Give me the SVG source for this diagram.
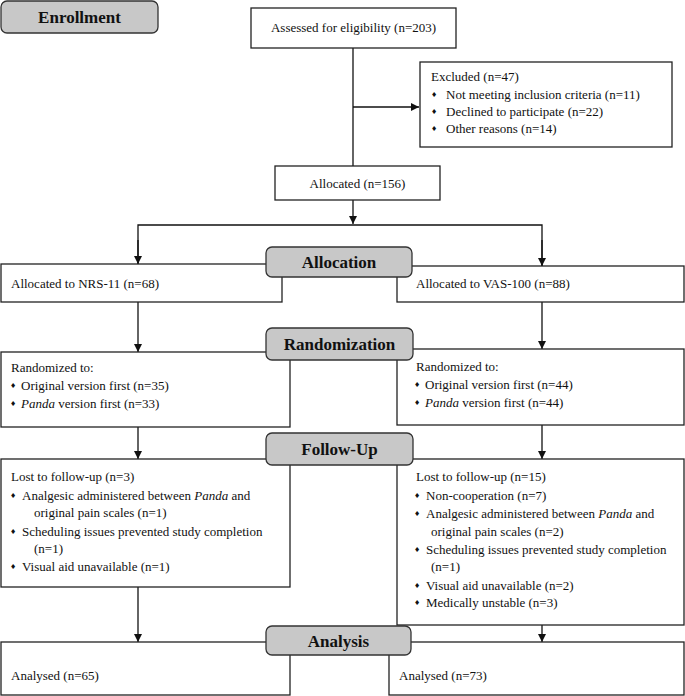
<svg xmlns="http://www.w3.org/2000/svg" width="685" height="696" viewBox="0 0 685 696">
<defs>
<style>
.box{fill:#fff;stroke:#222;stroke-width:1.3}
.lbl{fill:#c8c8c8;stroke:#333;stroke-width:1.3}
.t{font-family:"Liberation Serif","Times New Roman",serif;font-size:13px;fill:#111}
.b{font-family:"Liberation Serif","Times New Roman",serif;font-size:17px;font-weight:bold;fill:#111;text-anchor:middle}
.c{text-anchor:middle}
.bu{font-family:"DejaVu Sans",sans-serif;font-size:7px;fill:#111}
.i{font-style:italic}
.ln{fill:none;stroke:#111;stroke-width:1.3}
</style>
<marker id="ah" viewBox="0 0 10 10" refX="10" refY="5" markerWidth="8" markerHeight="8" markerUnits="userSpaceOnUse" orient="auto">
<path d="M0,0 L10,5 L0,10 z" fill="#111"/>
</marker>
</defs>
<rect width="685" height="696" fill="#fff"/>

<g id="connectors">
<line class="ln" x1="353" y1="48" x2="353" y2="166"/>
<line class="ln" x1="353" y1="107" x2="419" y2="107" marker-end="url(#ah)"/>
<line class="ln" x1="353" y1="200" x2="353" y2="224" marker-end="url(#ah)"/>
<polyline class="ln" points="138,264 138,225 542,225 542,266"/>
<line class="ln" x1="138" y1="240" x2="138" y2="264" marker-end="url(#ah)"/>
<line class="ln" x1="542" y1="240" x2="542" y2="266" marker-end="url(#ah)"/>
<line class="ln" x1="138" y1="302" x2="138" y2="352" marker-end="url(#ah)"/>
<line class="ln" x1="542" y1="302" x2="542" y2="349" marker-end="url(#ah)"/>
<line class="ln" x1="138" y1="427" x2="138" y2="459" marker-end="url(#ah)"/>
<line class="ln" x1="542" y1="425" x2="542" y2="459" marker-end="url(#ah)"/>
<line class="ln" x1="138" y1="587" x2="138" y2="642" marker-end="url(#ah)"/>
<line class="ln" x1="542" y1="625" x2="542" y2="642" marker-end="url(#ah)"/>
</g>

<g id="assessed">
<rect class="box" x="251" y="8" width="205" height="40"/>
<text class="t c" x="353.5" y="32">Assessed for eligibility (n=203)</text>
</g>

<g id="excluded">
<rect class="box" x="420" y="62" width="252" height="85"/>
<text class="t" x="431" y="81">Excluded (n=47)</text>
<text class="bu" x="431" y="97">♦</text><text class="t" x="446" y="99">Not meeting inclusion criteria (n=11)</text>
<text class="bu" x="431" y="114">♦</text><text class="t" x="446" y="116">Declined to participate (n=22)</text>
<text class="bu" x="431" y="131">♦</text><text class="t" x="446" y="133">Other reasons (n=14)</text>
</g>

<g id="allocated">
<rect class="box" x="275" y="166" width="165" height="34"/>
<text class="t c" x="357.5" y="187.5">Allocated (n=156)</text>
</g>

<g id="nrs">
<rect class="box" x="1" y="264" width="281" height="38"/>
<text class="t" x="11" y="287.5">Allocated to NRS-11 (n=68)</text>
</g>

<g id="vas">
<rect class="box" x="397" y="266" width="287" height="36"/>
<text class="t" x="416" y="287.5">Allocated to VAS-100 (n=88)</text>
</g>

<g id="rand-left">
<rect class="box" x="1" y="352" width="289" height="75"/>
<text class="t" x="11" y="372">Randomized to:</text>
<text class="bu" x="10" y="388">♦</text><text class="t" x="21" y="390">Original version first (n=35)</text>
<text class="bu" x="10" y="406">♦</text><text class="t" x="21" y="408"><tspan class="i">Panda</tspan> version first (n=33)</text>
</g>

<g id="rand-right">
<rect class="box" x="397" y="349" width="287" height="76"/>
<text class="t" x="416" y="371">Randomized to:</text>
<text class="bu" x="414" y="387">♦</text><text class="t" x="425" y="389">Original version first (n=44)</text>
<text class="bu" x="414" y="405">♦</text><text class="t" x="425" y="407"><tspan class="i">Panda</tspan> version first (n=44)</text>
</g>

<g id="fu-left">
<rect class="box" x="1" y="459" width="289" height="128"/>
<text class="t" x="11" y="481">Lost to follow-up (n=3)</text>
<text class="bu" x="10" y="498">♦</text><text class="t" x="22" y="500">Analgesic administered between <tspan class="i">Panda</tspan> and</text>
<text class="t" x="34" y="517">original pain scales (n=1)</text>
<text class="bu" x="10" y="534">♦</text><text class="t" x="22" y="536">Scheduling issues prevented study completion</text>
<text class="t" x="34" y="553">(n=1)</text>
<text class="bu" x="10" y="569">♦</text><text class="t" x="22" y="571">Visual aid unavailable (n=1)</text>
</g>

<g id="fu-right">
<rect class="box" x="397" y="459" width="287" height="166"/>
<text class="t" x="416" y="481">Lost to follow-up (n=15)</text>
<text class="bu" x="414" y="498">♦</text><text class="t" x="426" y="500">Non-cooperation (n=7)</text>
<text class="bu" x="414" y="516">♦</text><text class="t" x="426" y="518">Analgesic administered between <tspan class="i">Panda</tspan> and</text>
<text class="t" x="431" y="536">original pain scales (n=2)</text>
<text class="bu" x="414" y="552">♦</text><text class="t" x="426" y="554">Scheduling issues prevented study completion</text>
<text class="t" x="431" y="571">(n=1)</text>
<text class="bu" x="414" y="588">♦</text><text class="t" x="426" y="590">Visual aid unavailable (n=2)</text>
<text class="bu" x="414" y="605">♦</text><text class="t" x="426" y="607">Medically unstable (n=3)</text>
</g>

<g id="an-left">
<rect class="box" x="1" y="642" width="289" height="53"/>
<text class="t" x="11" y="680">Analysed (n=65)</text>
</g>

<g id="an-right">
<rect class="box" x="389" y="642" width="295" height="53"/>
<text class="t" x="399" y="680">Analysed (n=73)</text>
</g>

<g id="enrollment">
<rect class="lbl" x="1" y="1" width="157" height="32" rx="6"/>
<text class="b" x="79.5" y="23">Enrollment</text>
</g>

<g id="allocation">
<rect class="lbl" x="266" y="247" width="146" height="30" rx="6"/>
<text class="b" x="339" y="268">Allocation</text>
</g>

<g id="randomization">
<rect class="lbl" x="266" y="328" width="147" height="32" rx="6"/>
<text class="b" x="339.5" y="350">Randomization</text>
</g>

<g id="followup">
<rect class="lbl" x="266" y="433" width="147" height="32" rx="6"/>
<text class="b" x="339.5" y="455">Follow-Up</text>
</g>

<g id="analysis">
<rect class="lbl" x="266" y="626" width="145" height="29" rx="6"/>
<text class="b" x="338.5" y="647">Analysis</text>
</g>
</svg>
